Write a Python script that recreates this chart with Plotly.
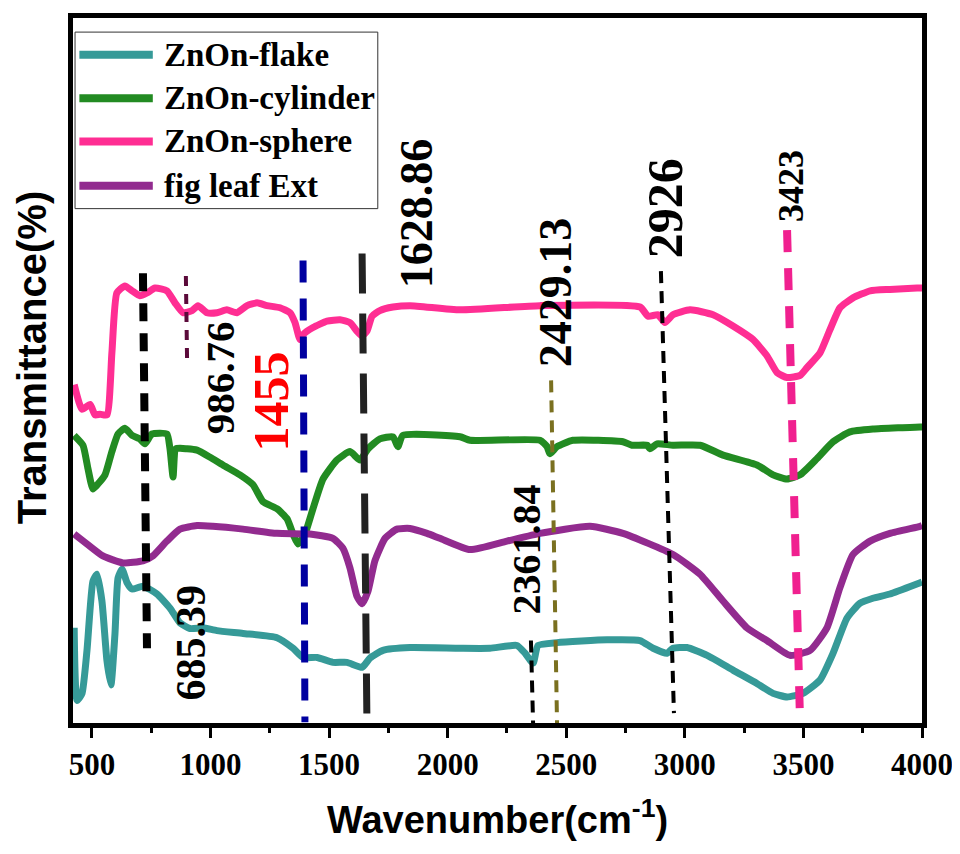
import plotly.graph_objects as go

# ---------------- data ----------------
series_names = ["ZnOn-flake", "ZnOn-cylinder", "ZnOn-sphere", "fig leaf Ext"]
series_colors = ["#369A98", "#228B22", "#FF2E93", "#922B8F"]

flake_wn = [425, 437, 458, 479, 504, 521, 542, 563, 580, 597, 610, 627, 648, 669, 715, 774, 829, 871, 913,
            968, 1027, 1137, 1280, 1348, 1390, 1449, 1516, 1575, 1639, 1672, 1727, 1841, 2052, 2178, 2292,
            2326, 2360, 2381, 2461, 2672, 2811, 2866, 2925, 2950, 3009, 3094, 3203, 3304, 3372, 3431, 3498,
            3570, 3625, 3684, 3739, 3793, 3865, 3992, 4000]
flake_t = [13.5, 3.2, 4.2, 10.3, 20.1, 21.1, 17.3, 8.9, 5.4, 12.7, 20.6, 21.8, 19.9, 19.0, 19.4, 18.3, 16.3,
           14.2, 13.4, 13.5, 13.1, 12.7, 12.1, 10.6, 9.3, 9.3, 8.6, 8.6, 7.9, 9.2, 10.3, 10.7, 10.6, 10.6,
           11.0, 9.9, 8.5, 11.0, 11.4, 11.8, 11.7, 10.6, 9.9, 10.6, 10.7, 9.6, 7.5, 5.6, 4.2, 3.7, 4.2, 6.1,
           9.9, 14.9, 17.0, 17.7, 18.3, 19.9, 20.0]

cyl_wn = [425, 462, 483, 504, 525, 555, 584, 610, 639, 669, 702, 723, 753, 816, 829, 842, 854, 901, 943, 998,
          1052, 1124, 1179, 1221, 1280, 1322, 1348, 1369, 1398, 1432, 1474, 1533, 1588, 1630, 1664, 1714,
          1769, 1790, 1811, 2052, 2094, 2389, 2419, 2431, 2461, 2528, 2739, 2777, 2841, 2853, 2883, 2950,
          3064, 3161, 3304, 3372, 3431, 3486, 3557, 3625, 3696, 3793, 3992, 4000]
cyl_t = [40.8, 39.4, 36.1, 33.2, 33.9, 35.2, 38.5, 41.0, 41.8, 40.8, 40.3, 39.6, 41.0, 41.0, 38.9, 34.9, 38.9,
         38.9, 38.7, 37.7, 36.6, 35.2, 33.8, 31.4, 30.4, 29.0, 26.8, 25.4, 26.8, 30.4, 34.6, 37.3, 38.5,
         37.3, 38.9, 40.3, 40.6, 39.2, 40.8, 40.6, 40.1, 40.1, 39.2, 38.2, 39.2, 40.1, 39.9, 39.4, 39.4,
         38.9, 39.6, 39.4, 39.4, 38.0, 36.6, 35.2, 34.6, 35.2, 37.5, 39.9, 41.3, 41.7, 42.0, 42.0]

sph_wn = [425, 458, 492, 513, 534, 563, 584, 605, 639, 669, 702, 732, 766, 816, 850, 884, 922, 947, 985, 1027,
          1069, 1111, 1154, 1196, 1238, 1293, 1335, 1356, 1377, 1390, 1432, 1491, 1546, 1588, 1617, 1639,
          1660, 1681, 1714, 1769, 1841, 2052, 2389, 2811, 2845, 2887, 2916, 2950, 3022, 3119, 3203, 3287,
          3346, 3389, 3431, 3486, 3515, 3570, 3612, 3654, 3709, 3781, 3865, 3979, 4000]
sph_t = [48.0, 44.5, 45.2, 43.7, 43.8, 43.7, 52.5, 61.0, 62.0, 61.3, 60.6, 61.0, 61.7, 61.3, 59.6, 58.2, 58.5,
         59.2, 58.2, 58.2, 58.6, 58.2, 59.2, 59.6, 59.2, 58.9, 58.2, 56.8, 54.4, 55.1, 56.1, 57.0, 57.2,
         56.8, 55.6, 54.9, 55.6, 57.7, 58.5, 59.0, 59.2, 58.6, 59.2, 59.0, 57.7, 57.9, 56.8, 57.9, 58.6,
         57.9, 56.3, 54.4, 52.1, 49.7, 49.0, 49.3, 50.4, 52.5, 55.8, 58.9, 60.3, 61.3, 61.5, 61.7, 61.7]

leaf_wn = [425, 479, 546, 631, 715, 757, 816, 871, 943, 1010, 1137, 1280, 1419, 1516, 1558, 1588, 1617, 1639,
           1664, 1693, 1736, 1786, 1841, 1913, 1967, 2094, 2250, 2389, 2600, 2739, 2950, 3064, 3161, 3262,
           3346, 3443, 3528, 3599, 3654, 3709, 3781, 3865, 3992, 4000]
leaf_t = [26.8, 25.4, 23.7, 22.7, 23.0, 23.7, 25.8, 27.5, 28.0, 27.9, 27.5, 26.9, 26.8, 26.2, 24.8, 22.0,
          18.0, 16.9, 18.7, 23.0, 26.2, 27.5, 27.6, 26.9, 26.2, 24.6, 25.8, 26.9, 27.9, 26.9, 23.9, 21.1,
          17.3, 13.5, 11.7, 9.6, 10.3, 13.5, 19.2, 23.9, 25.8, 26.9, 27.9, 28.0]

# peak labels: text, centre wavenumber, centre transmittance
peak_labels = ["685.39", "986.76", "1455", "1628.86", "2429.13", "2361.84", "2926", "3423"]
peak_label_wn = [917, 1040, 1251, 1866, 2452, 2334, 2916, 3448]
peak_label_t = [11.4, 48.9, 45.6, 72.3, 61.1, 24.6, 73.0, 76.2]

# peak guide lines: wavenumber/transmittance at top and bottom ends
guide_wn_top = [715, 896, 1390, 1639, 2436, 2351, 2899, 3431]
guide_t_top = [63.8, 63.4, 65.6, 66.6, 48.6, 11.7, 64.1, 69.9]
guide_wn_bot = [732, 901, 1398, 1660, 2461, 2360, 2954, 3486]
guide_t_bot = [10.6, 51.5, 0.1, -1.7, 0.0, 0.0, 1.4, 0.0]

# ---------------- styles ----------------
label_style = [
    dict(size=42, weight="bold", color="black"),
    dict(size=41, weight="bold", color="black"),
    dict(size=50, weight="bold", color="#FF0000"),
    dict(size=46, weight="bold", color="black"),
    dict(size=46, weight="bold", color="black"),
    dict(size=40, weight="bold", color="black"),
    dict(size=50, weight="bold", color="black"),
    dict(size=36, weight="bold", color="black"),
]
guide_style = [
    dict(color="black", width=8, dash="18px,12px"),
    dict(color="#5B0A3A", width=4, dash="10px,8px"),
    dict(color="#0000A0", width=7, dash="22px,16px"),
    dict(color="#222222", width=7, dash="40px,20px"),
    dict(color="#7A7020", width=4, dash="12px,8px"),
    dict(color="black", width=4, dash="12px,8px"),
    dict(color="black", width=4, dash="12px,8px"),
    dict(color="#F0208F", width=8, dash="22px,16px"),
]

SERIF = "Liberation Serif, Times New Roman, serif"
SANS = "Liberation Sans, Arial, sans-serif"

fig = go.Figure()
all_x = [flake_wn, cyl_wn, sph_wn, leaf_wn]
all_y = [flake_t, cyl_t, sph_t, leaf_t]
for name, color, xs, ys in zip(series_names, series_colors, all_x, all_y):
    fig.add_trace(go.Scatter(x=xs, y=ys, mode="lines", name=name,
                             line=dict(color=color, width=7, shape="spline", smoothing=0.5),
                             showlegend=False, hoverinfo="skip"))

shapes = []
for x0, y0, x1, y1, st in zip(guide_wn_top, guide_t_top, guide_wn_bot, guide_t_bot, guide_style):
    shapes.append(dict(type="line", xref="x", yref="y", x0=x0, y0=y0, x1=x1, y1=y1,
                       line=st, layer="above"))

annotations = []
for txt, x, y, st in zip(peak_labels, peak_label_wn, peak_label_t, label_style):
    annotations.append(dict(x=x, y=y, xref="x", yref="y", text=txt, showarrow=False,
                            textangle=-90, xanchor="center", yanchor="middle",
                            font=dict(family=SERIF, size=st["size"], color=st["color"],
                                      weight=st["weight"])))

# manual legend (paper coordinates)
shapes.append(dict(type="rect", xref="paper", yref="paper", x0=0.0024, x1=0.359, y0=0.7296, y1=0.980,
                   line=dict(color="#333333", width=1), fillcolor="white", layer="above"))
legend_y = [0.948, 0.886, 0.825, 0.762]
for name, color, ly in zip(series_names, series_colors, legend_y):
    shapes.append(dict(type="line", xref="paper", yref="paper", x0=0.0075, x1=0.094, y0=ly, y1=ly,
                       line=dict(color=color, width=8), layer="above"))
    annotations.append(dict(x=0.1048, y=ly, xref="paper", yref="paper", text=name, showarrow=False,
                            xanchor="left", yanchor="middle",
                            font=dict(family=SERIF, size=33, color="black", weight="bold")))

# axis titles
annotations.append(dict(x=0.5, y=-0.134, xref="paper", yref="paper",
                        text="Wavenumber(cm<sup>-1</sup>)", showarrow=False,
                        xanchor="center", yanchor="middle",
                        font=dict(family=SANS, size=38, color="black", weight="bold")))
annotations.append(dict(x=-0.049, y=0.518, xref="paper", yref="paper",
                        text="Transmittance(%)", showarrow=False, textangle=-90,
                        xanchor="center", yanchor="middle",
                        font=dict(family=SANS, size=40, color="black", weight="bold")))

# page body has an 8px margin, so the figure is offset by 8px in the window
fig.update_layout(
    width=952, height=838, autosize=False,
    margin=dict(l=65, r=38, t=5, b=123),
    paper_bgcolor="white", plot_bgcolor="white",
    shapes=shapes, annotations=annotations, showlegend=False,
    xaxis=dict(range=[420, 4000], showline=True, linewidth=5, linecolor="black", mirror=True,
               ticks="outside", ticklen=10, tickwidth=3, tickcolor="black",
               tick0=0, dtick=500, showgrid=False, zeroline=False,
               tickfont=dict(family=SERIF, size=31, color="black", weight="bold"),
               minor=dict(dtick=250, ticks="outside", ticklen=5, tickwidth=3, tickcolor="black")),
    yaxis=dict(range=[0, 100], showline=True, linewidth=5, linecolor="black", mirror=True,
               ticks="", showticklabels=False, showgrid=False, zeroline=False),
)

fig.write_html("out.html")
